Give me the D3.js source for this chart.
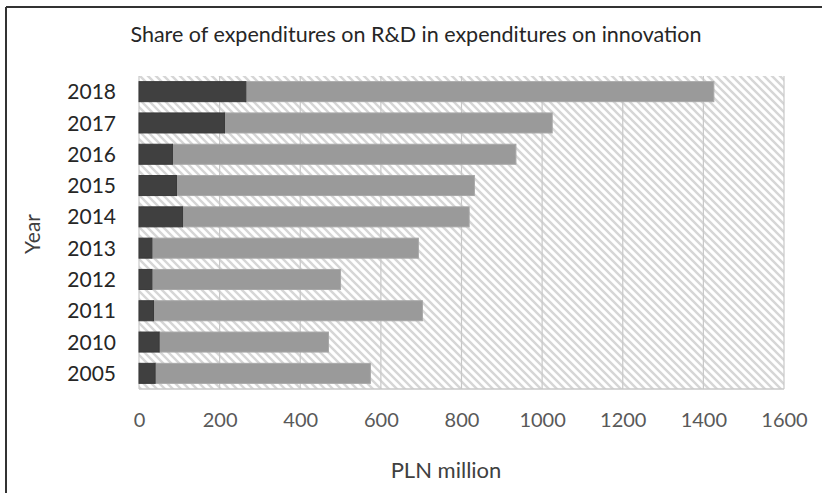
<!DOCTYPE html>
<html>
<head>
<meta charset="utf-8">
<script src="https://cdn.jsdelivr.net/npm/d3@7"></script>
<style>
  html, body { margin: 0; padding: 0; background: #ffffff; }
  svg { display: block; }
  text { font-family: Lato, "Open Sans", sans-serif; }
</style>
</head>
<body>
<svg id="chart" width="822" height="493"></svg>
<script>
const years = ["2018", "2017", "2016", "2015", "2014", "2013", "2012", "2011", "2010", "2005"];
const rdValues = [265, 212, 83, 93, 108, 32, 32, 36, 50, 40];
const totalValues = [1426, 1025, 935, 832, 819, 693, 500, 703, 470, 574];
const xTicks = [0, 200, 400, 600, 800, 1000, 1200, 1400, 1600];
const titleText = "Share of expenditures on R&D in expenditures on innovation";
const xTitle = "PLN million";
const yTitle = "Year";

const svg = d3.select("#chart");
const W = 822, H = 493;
const plot = { left: 139, right: 784, top: 76, bottom: 389 };

// frame
svg.append("line").attr("x1", 6).attr("x2", W).attr("y1", 7).attr("y2", 7)
  .attr("stroke", "#333").attr("stroke-width", 2);
svg.append("line").attr("x1", 6).attr("x2", 6).attr("y1", 7).attr("y2", H)
  .attr("stroke", "#333").attr("stroke-width", 2);

// hatch pattern
const defs = svg.append("defs");
const pat = defs.append("pattern").attr("id", "hatch")
  .attr("patternUnits", "userSpaceOnUse").attr("width", 8).attr("height", 8);
pat.append("rect").attr("width", 8).attr("height", 8).attr("fill", "#ffffff");
pat.append("path").attr("d", "M-2,-2 L10,10 M-2,6 L2,10 M6,-2 L10,2")
  .attr("stroke", "#d6d6d6").attr("stroke-width", 2.4);

const x = d3.scaleLinear().domain([0, 1600]).range([plot.left, plot.right]);
const y = d3.scaleBand().domain(years).range([plot.top, plot.bottom])
  .paddingInner(0.36).paddingOuter(0.18);

svg.append("rect").attr("x", plot.left).attr("y", plot.top)
  .attr("width", plot.right - plot.left).attr("height", plot.bottom - plot.top)
  .attr("fill", "url(#hatch)");

// gridlines
svg.append("g").selectAll("line").data(xTicks).join("line")
  .attr("x1", d => x(d)).attr("x2", d => x(d))
  .attr("y1", plot.top).attr("y2", plot.bottom)
  .attr("stroke", "#c8c8c8").attr("stroke-width", 1.2);
svg.append("line").attr("x1", plot.left).attr("x2", plot.right)
  .attr("y1", plot.bottom).attr("y2", plot.bottom)
  .attr("stroke", "#c8c8c8").attr("stroke-width", 1.5);

// bars
const rows = years.map((yr, i) => ({ yr, rd: rdValues[i], total: totalValues[i] }));
svg.append("g").selectAll("rect").data(rows).join("rect")
  .attr("x", d => x(d.rd)).attr("y", d => y(d.yr))
  .attr("width", d => x(d.total) - x(d.rd)).attr("height", y.bandwidth())
  .attr("fill", "#9a9a9a").attr("stroke", "#a8a8a8").attr("stroke-width", 1);
svg.append("g").selectAll("rect").data(rows).join("rect")
  .attr("x", x(0)).attr("y", d => y(d.yr))
  .attr("width", d => x(d.rd) - x(0)).attr("height", y.bandwidth())
  .attr("fill", "#404040").attr("stroke", "#3a3a3a").attr("stroke-width", 1);

// y axis labels
const yAxis = d3.axisLeft(y).tickSize(0).tickPadding(0);
const gy = svg.append("g").attr("transform", `translate(${plot.left - 23},0)`).call(yAxis);
gy.select(".domain").remove();
gy.selectAll("text").attr("font-size", 21).attr("fill", "#262626")
  .attr("font-family", "Lato, sans-serif").attr("dy", "0.36em");

// x axis labels
const xAxis = d3.axisBottom(x).tickValues(xTicks).tickSize(0).tickPadding(0).tickFormat(d3.format("d"));
const gx = svg.append("g").attr("transform", `translate(0,${plot.bottom + 38})`).call(xAxis);
gx.select(".domain").remove();
gx.selectAll("text").attr("font-size", 20).attr("fill", "#595959")
  .attr("font-family", "Lato, sans-serif").attr("dy", 0);

// titles
svg.append("text").attr("x", 416).attr("y", 42).attr("text-anchor", "middle")
  .attr("font-size", 21.5).attr("fill", "#262626").text(titleText);
svg.append("text").attr("x", 446).attr("y", 478).attr("text-anchor", "middle")
  .attr("font-size", 22).attr("fill", "#404040").text(xTitle);
svg.append("text").attr("transform", "translate(40,234) rotate(-90)")
  .attr("text-anchor", "middle").attr("font-size", 21).attr("fill", "#404040").text(yTitle);
</script>
</body>
</html>
